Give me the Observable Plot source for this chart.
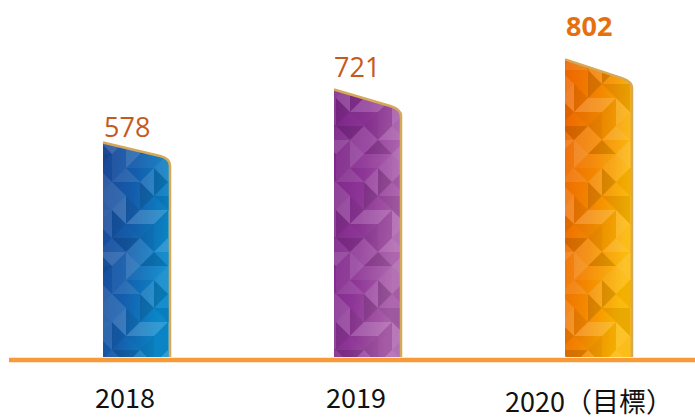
<!DOCTYPE html>
<html><head><meta charset="utf-8">
<script src="https://cdn.jsdelivr.net/npm/d3@7"></script>
<script src="https://cdn.jsdelivr.net/npm/@observablehq/plot@0.6"></script>
<style>html,body{margin:0;padding:0;background:#fff}#chart svg{display:block}</style>
</head><body><div id="chart"></div>
<script>
// ---- data ----
const years = ["2018", "2019", "2020"];
const yearLabels = ["2018", "2019", "2020（目標）"];
const values = [578, 721, 802];
const barStyles = ["blue", "purple", "orange"];

const data = years.map((y, i) => ({year: y, label: yearLabels[i], value: values[i], style: barStyles[i], i}));

const gradients = {
  blue: ["#1a4595", "#145ead", "#0a88ca"],
  purple: ["#7a2586", "#8e3697", "#aa5faa"],
  orange: ["#ec6400", "#f38600", "#fbb600"]
};

const chart = Plot.plot({
  width: 695,
  height: 418,
  marginTop: 23,
  marginBottom: 61,
  marginLeft: 9,
  marginRight: 0,
  x: {domain: years, range: [9, 726.5], paddingInner: 0.7103, paddingOuter: 0.4065, axis: null},
  y: {domain: [0, 900], axis: null},
  marks: [
    Plot.barY(data, {x: "year", y: "value", fill: "#999", ariaLabel: "bar"}),
    Plot.ruleY([0], {stroke: "#f79b38", strokeWidth: 4.5, dy: 2.5}),
    Plot.text(data.filter(d => d.i === 0), {x: "year", y: "value", text: d => String(d.value), textAnchor: "start", lineAnchor: "bottom", dx: -33, dy: -5.5, fontSize: 27, fontFamily: "Open Sans", fill: "#c65a1c"}),
    Plot.text(data.filter(d => d.i === 1), {x: "year", y: "value", text: d => String(d.value), textAnchor: "start", lineAnchor: "bottom", dx: -34, dy: -12.5, fontSize: 27, fontFamily: "Open Sans", fill: "#c65a1c"}),
    Plot.text(data.filter(d => d.i === 2), {x: "year", y: "value", text: d => String(d.value), textAnchor: "start", lineAnchor: "bottom", dx: -33, dy: -23.5, fontSize: 27, fontWeight: "bold", fontFamily: "Open Sans", fill: "#e6700e"}),
    Plot.text(data.filter(d => d.i < 2), {x: "year", frameAnchor: "bottom", text: "label", textAnchor: "middle", lineAnchor: "bottom", dx: -12, dy: 50, fontSize: 27, fontFamily: "Noto Sans CJK TC", fill: "#111"}),
    Plot.text(data.filter(d => d.i === 2), {x: "year", frameAnchor: "bottom", text: "label", textAnchor: "middle", lineAnchor: "bottom", dx: -10, dy: 54, fontSize: 27, fontFamily: "Noto Sans CJK TC", fill: "#111"})
  ]
});

// ---- decorate bars: gradient + triangle mosaic + slanted golden top ----
const svg = d3.select(chart);
const defs = svg.insert("defs", ":first-child");
Object.entries(gradients).forEach(([id, stops]) => {
  const g = defs.append("linearGradient").attr("id", "grad-" + id)
    .attr("x1", 0).attr("y1", 0).attr("x2", 1).attr("y2", 0.35);
  stops.forEach((c, k) => g.append("stop").attr("offset", k / (stops.length - 1)).attr("stop-color", c));
});
// diamond mosaic: each diamond split into two triangles, split direction alternating
const h = 14, n = 4, tile = 2 * h * n;
const shades = [["#fff", 0.10], ["#000", 0.07], ["#fff", 0.0], ["#fff", 0.16], ["#000", 0.12], ["#fff", 0.05], ["#000", 0.03], ["#fff", 0.12]];
const pat = defs.append("pattern").attr("id", "mosaic").attr("patternUnits", "userSpaceOnUse")
  .attr("width", tile).attr("height", tile);
function diamond(cx, cy, a, b, vertical) {
  const sa = shades[a % shades.length], sb = shades[b % shades.length];
  const T = [cx, cy - h], B = [cx, cy + h], L = [cx - h, cy], R = [cx + h, cy];
  const halves = vertical ? [[T, L, B], [T, R, B]] : [[L, T, R], [L, B, R]];
  [sa, sb].forEach((s, k) => pat.append("path").attr("d", `M${halves[k].join("L")}Z`).attr("fill", s[0]).attr("fill-opacity", s[1]));
}
for (let i = 0; i <= n; i++) for (let j = 0; j <= n; j++) {
  const ii = i % n, jj = j % n;
  diamond(i * 2 * h, j * 2 * h, ii * 3 + jj * 5, ii * 5 + jj * 2 + 1, (ii + jj) % 2 === 0);
  if (i < n && j < n) diamond(i * 2 * h + h, j * 2 * h + h, ii * 7 + jj * 3 + 2, ii * 2 + jj * 7 + 4, (ii + jj) % 2 === 1);
}

svg.selectAll('g[aria-label="bar"] rect').each(function(d, k) {
  const r = d3.select(this);
  const x0 = +r.attr("x"), w = +r.attr("width"), yT = +r.attr("y"), yB = yT + (+r.attr("height"));
  const x1 = x0 + w, s = 0.063 * (yB - yT), rad = 10;
  const slope = s / (w - rad);
  const top = `M${x0},${yT}L${x1 - rad},${yT + s}Q${x1},${yT + s + slope * rad} ${x1},${yT + s + rad}`;
  const shape = `M${x0},${yB}L${x0},${yT}` + top.slice(top.indexOf("L")) + `L${x1},${yB}Z`;
  const g = d3.select(this.parentNode);
  const style = data[k].style;
  g.append("path").attr("d", shape).attr("fill", `url(#grad-${style})`);
  g.append("path").attr("d", shape).attr("fill", "url(#mosaic)");
  g.append("path").attr("d", top + `L${x1},${yB}`).attr("fill", "none").attr("stroke", "#d6a956").attr("stroke-width", 2.5);
  r.remove();
});

document.getElementById("chart").appendChild(chart);
</script>
</body></html>
